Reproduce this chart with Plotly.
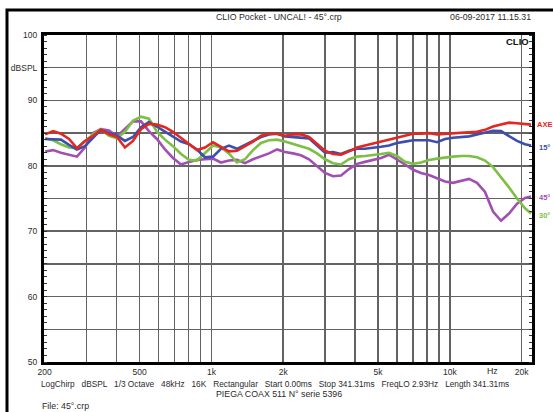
import math
import plotly.graph_objects as go

# ---------------- data ----------------
freq_hz = [201, 217, 234, 253, 273, 295, 319, 344, 372, 402, 434, 469, 507, 547, 591,
           639, 690, 746, 806, 870, 940, 1016, 1097, 1185, 1280, 1383, 1494, 1614, 1744,
           1884, 2035, 2199, 2375, 2566, 2772, 2995, 3235, 3495, 3775, 4079, 4406, 4760,
           5142, 5555, 6001, 6483, 7004, 7566, 8174, 8830, 9539, 10305, 11132, 12026,
           12992, 14035, 15162, 16380, 17695, 19116, 20651, 21900]

axe_db = [84.8, 85.3, 84.9, 84.1, 82.7, 83.8, 84.6, 85.5, 84.8, 84.4, 82.8, 83.8, 85.6,
          86.4, 86.3, 85.9, 85.2, 84.3, 83.4, 82.4, 82.8, 83.6, 82.9, 82.2, 82.3, 83.0,
          83.7, 84.6, 84.9, 84.9, 84.6, 84.8, 84.8, 84.4, 83.3, 82.3, 81.8, 81.7, 82.2,
          82.8, 83.1, 83.4, 83.6, 83.9, 84.2, 84.5, 84.9, 84.9, 85.0, 84.8, 84.9, 85.0,
          85.1, 85.1, 85.2, 85.5, 86.0, 86.3, 86.6, 86.5, 86.4, 86.3]

deg15_db = [84.1, 84.1, 84.0, 83.2, 82.5, 83.0, 84.3, 85.5, 85.0, 84.6, 83.8, 84.4, 85.9,
            86.7, 86.0, 85.2, 84.4, 83.7, 83.3, 82.5, 81.3, 81.4, 82.6, 83.1, 82.6, 83.2,
            83.8, 84.4, 84.8, 84.9, 84.5, 84.4, 84.4, 84.2, 83.1, 82.0, 82.1, 81.8, 82.3,
            82.6, 82.6, 82.7, 82.9, 83.1, 83.5, 83.7, 83.9, 83.9, 83.9, 83.6, 84.1, 84.3,
            84.4, 84.5, 84.8, 85.1, 85.35, 85.3, 84.6, 83.8, 83.3, 83.1]

deg30_db = [84.2, 83.9, 83.3, 82.8, 82.7, 83.7, 84.8, 85.6, 84.6, 84.2, 85.2, 86.9, 87.5,
            87.2, 85.2, 84.0, 83.0, 81.8, 80.9, 80.8, 82.0, 83.1, 82.8, 81.9, 80.5, 81.0,
            82.4, 83.5, 83.9, 84.0, 83.7, 83.3, 83.0, 82.6, 81.9, 81.0, 80.4, 80.2, 81.0,
            81.4, 81.5, 81.6, 81.8, 82.0, 81.5, 80.6, 80.3, 80.5, 80.9, 81.1, 81.3, 81.4,
            81.5, 81.5, 81.3, 80.8, 79.8, 78.3, 76.7, 75.0, 73.5, 72.7]

deg45_db = [82.2, 82.4, 82.0, 81.7, 81.4, 82.8, 85.0, 85.6, 85.4, 84.5, 85.6, 86.8, 86.8,
            85.3, 84.1, 82.5, 81.2, 80.2, 80.6, 80.9, 81.0, 81.1, 80.5, 80.8, 80.9, 80.4,
            81.0, 81.4, 81.9, 82.5, 82.1, 81.9, 81.6, 81.0, 80.0, 78.9, 78.4, 78.5, 79.5,
            80.3, 80.6, 80.9, 81.2, 81.7, 81.0, 80.2, 79.4, 78.9, 78.6, 78.1, 77.6, 77.4,
            77.7, 78.0, 77.4, 76.0, 73.0, 71.6, 72.7, 74.2, 75.1, 75.3]

series_labels = ["45°", "30°", "15°", "AXE"]
series_colors = ["#a14fb2", "#7cc043", "#3c4fae", "#e3261f"]

grid_freqs = [200, 300, 400, 500, 600, 700, 800, 900, 1000, 2000, 3000, 4000, 5000,
              6000, 7000, 8000, 9000, 10000, 20000]
freq_labels = {200: "200", 500: "500", 1000: "1k", 2000: "2k", 5000: "5k",
               10000: "10k", 20000: "20k"}
db_ticks = [50, 55, 60, 65, 70, 75, 80, 85, 90, 95, 100]
db_labels = ["50", "", "60", "", "70", "", "80", "", "90", "dBSPL", "100"]

title_text = "CLIO Pocket - UNCAL! - 45°.crp"
date_text = "06-09-2017 11.15.31"
info_text = ("LogChirp   dBSPL   1/3 Octave   48kHz   16K   Rectangular   Start 0.00ms   "
             "Stop 341.31ms   FreqLO 2.93Hz   Length 341.31ms")
device_text = "PIEGA COAX 511 N° serie 5396"
file_text = "File: 45°.crp"

# ---------------- layout geometry ----------------
W, H = 553, 412
L, R, T, B = 44, 532, 35, 362


def px(xp, yp):
    return (xp - L) / (R - L), (B - yp) / (B - T)


FONT = "Liberation Sans, Arial, sans-serif"
TXT = "#2a2a2a"

fig = go.Figure()
all_series = [deg45_db, deg30_db, deg15_db, axe_db]
for name, vals, col in zip(series_labels, all_series, series_colors):
    fig.add_trace(go.Scatter(x=freq_hz, y=vals, mode="lines", name=name,
                             line=dict(color=col, width=2.6), showlegend=False,
                             hoverinfo="skip"))

annotations = []


def add_text(text, xp, yp, size=8.8, color=TXT, xanchor="center", bold=False):
    xx, yy = px(xp, yp)
    annotations.append(dict(text=("<b>%s</b>" % text) if bold else text,
                            xref="paper", yref="paper", x=xx, y=yy,
                            xanchor=xanchor, yanchor="middle", showarrow=False,
                            font=dict(size=size, color=color, family=FONT)))


add_text(title_text, 279, 17)
add_text(date_text, 533, 17, xanchor="right")
add_text("CLIO", 531, 41, size=9.5, color="#111", xanchor="right", bold=True)
add_text("Hz", 492, 371)
add_text(info_text, 275, 384, size=8.3)
add_text(device_text, 279, 394)
add_text(file_text, 40, 406, xanchor="left")

label_pos = {"AXE": 124, "15°": 147, "45°": 197, "30°": 216}
for name, col in zip(series_labels, series_colors):
    add_text(name, 544, label_pos[name], size=7.5, color=col, bold=True)

fx0, fy0 = px(7, 10)
fx1, fy1 = px(575, 440)

fig.update_layout(
    width=W, height=H, autosize=False,
    margin=dict(l=L, r=W - R, t=T, b=H - B, pad=0),
    paper_bgcolor="white", plot_bgcolor="white",
    font=dict(family=FONT, size=8.5, color=TXT),
    annotations=annotations,
    shapes=[dict(type="rect", xref="paper", yref="paper", x0=fx0, y0=fy0, x1=fx1, y1=fy1,
                 line=dict(color="black", width=3), fillcolor="rgba(0,0,0,0)", layer="below")],
    xaxis=dict(type="log", range=[math.log10(198.7), math.log10(22090)],
               tickmode="array", tickvals=grid_freqs,
               ticktext=[freq_labels.get(v, "") for v in grid_freqs],
               showgrid=True, gridcolor="#636363", gridwidth=1.5,
               showline=True, linecolor="black", linewidth=3, mirror=True,
               ticks="", tickfont=dict(size=8.5, color=TXT), zeroline=False),
    yaxis=dict(range=[50, 100], tickmode="array", tickvals=db_ticks, ticktext=db_labels,
               showgrid=True, gridcolor="#636363", gridwidth=1.5,
               showline=True, linecolor="black", linewidth=3, mirror="allticks",
               ticks="", tickfont=dict(size=8.5, color=TXT), zeroline=False,
               ticklabelstandoff=2,
               minor=dict(dtick=1, ticks="inside", ticklen=3, tickcolor="#333",
                          tickwidth=1, showgrid=False)),
)

fig.write_html("out.html",
               config={"displayModeBar": False, "staticPlot": True},
               post_script="document.body.style.margin='0px';"
                           "document.body.style.overflow='hidden';")
